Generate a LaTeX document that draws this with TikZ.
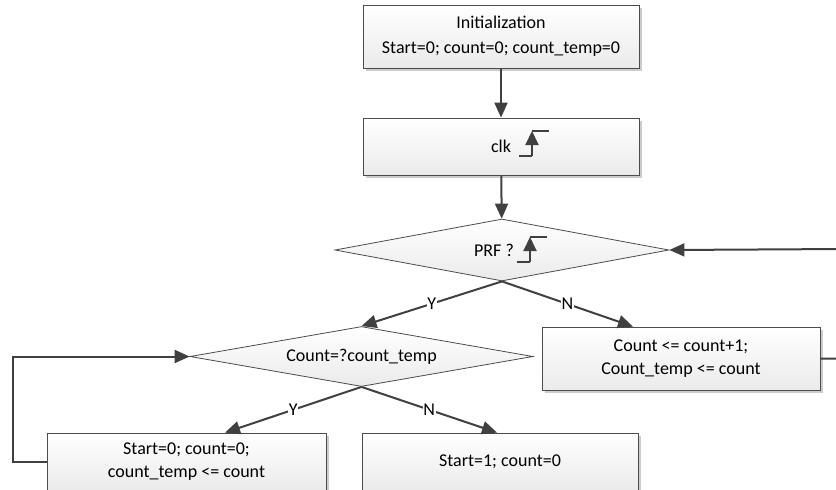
\documentclass[tikz,border=0pt]{standalone}
\usepackage{fontspec}
\setmainfont{Carlito}
\usetikzlibrary{shapes.geometric,arrows.meta,shadows}

% rising edge mark, given its lower left corner
\newcommand{\risingedge}[1]{%
	\draw[risemark] #1 -- ++(13,0);
	\draw[risemark,-{Triangle[length=14pt,width=13pt]}] #1 ++(13,0) -- ++(0,-25);
	\draw[risemark] #1 ++(13,-25) -- ++(17,0);}

\begin{document}
\begin{tikzpicture}[x=1pt,y=-1pt,
	every node/.style = {font=\fontsize{18}{22.5}\selectfont},
	box/.style = {shape=rectangle, draw=black!70, line width=0.8pt, align=center,
		top color=white, bottom color=gray!16,
		minimum width=276pt, minimum height=57pt,
		drop shadow={shadow xshift=3pt, shadow yshift=-3pt, fill=gray!40, opacity=1}},
	test/.style = {shape=diamond, draw=black!70, line width=0.8pt, inner sep=0pt,
		aspect=5.6, top color=white, bottom color=gray!16},
	arr/.style = {draw=black!75, line width=2pt, -{Triangle[length=15pt,width=13pt]}},
	risemark/.style = {draw=black!75, line width=2pt},
	yn/.style = {fill=white, inner sep=0.5pt, pos=0.5}]
	\useasboundingbox (0,0) rectangle (836,490);

	\node[box, minimum height=63pt] (init) at (501,36.5)
		{Initialization\\[2.5pt]Start=0; count=0; count\_temp=0};
	\node[box] (clk) at (501,146.5) {clk};
	\risingedge{(519,156)}

	\node[test, minimum width=334pt, minimum height=62pt] (prf) at (502,250) {};
	\node (prflbl) at (494,250) {PRF ?};
	\risingedge{(517,262)}

	\node[test, minimum width=343pt, minimum height=60pt] (cnt) at (361.5,356.5)
		{Count=?count\_temp};
	\node[box, minimum width=278pt, minimum height=63pt] (incr) at (681,358.5)
		{Count <= count+1;\\Count\_temp <= count};
	\node[box, minimum width=279pt] (reset) at (186.5,461.5)
		{Start=0; count=0;\\count\_temp <= count};
	\node[box] (done) at (500,461.5) {Start=1; count=0};

	\coordinate (rgt) at (845,249);
	\coordinate (lft) at (12.7,461.5);

	\draw[arr] (init) -- (clk);
	\draw[arr] (clk) -- (prf);
	\draw[arr] (prf.south) -- node[yn] (prfy) {Y} (cnt.north);
	\draw[arr] (prf.south) -- node[yn] (prfn) {N} ([xshift=-48pt]incr.north);
	\draw[arr] (cnt.south) -- node[yn] (cnty) {Y} ([xshift=38.5pt]reset.north);
	\draw[arr] (cnt.south) -- node[yn] (cntn) {N} ([xshift=-3pt]done.north);
	\draw[arr] (incr.east) -| (rgt) -- (prf.east);
	\draw[arr] (reset.west) -- (lft) |- (cnt.west);
\end{tikzpicture}
\end{document}
